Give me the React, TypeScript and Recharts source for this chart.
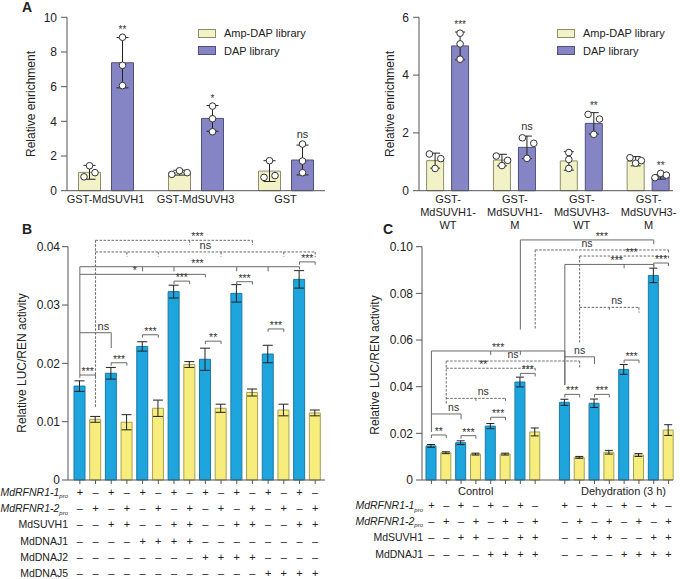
import React from "react";
import { BarChart, Bar, XAxis, YAxis, ErrorBar, Cell, LabelList, ReferenceLine } from "recharts";

const FONT = "'Liberation Sans', Arial, Helvetica, sans-serif";
const AX = "#555";
const BR = "#6a6a6a";
const AMP = { fill: "#f2f2c6", stroke: "#8e8e6e" };
const DAP = { fill: "#8585c6", stroke: "#50507e" };
const BLUE = { fill: "#1ea5dd", stroke: "#1a7aa5" };
const YEL = { fill: "#f6ed7d", stroke: "#aaa055" };

// ---- A, left ----
const a1Names = ["GST-MdSUVH1", "GST-MdSUVH3", "GST"];
const a1Amp = [1.06, 1.04, 1.13];
const a1AmpSd = [0.4, 0.14, 0.6];
const a1AmpReps = [[0.8, 1.44, 1.04], [0.94, 1.15, 1.04], [1.73, 0.77, 0.87]];
const a1Dap = [7.38, 4.17, 1.77];
const a1DapSd = [1.45, 0.74, 0.86];
const a1DapReps = [[8.85, 7.23, 6.06], [4.88, 4.15, 3.4], [2.69, 1.71, 1.04]];
const a1DapSig = ["**", "*", "ns"];

// ---- A, right ----
const a2Names = ["GST-MdSUVH1-WT", "GST-MdSUVH1-M", "GST-MdSUVH3-WT", "GST-MdSUVH3-M"];
const a2Amp = [1.04, 1.06, 1.03, 1.02];
const a2AmpSd = [0.26, 0.2, 0.32, 0.16];
const a2AmpReps = [[1.27, 0.77, 1.11], [1.2, 0.87, 1.05], [1.32, 1.08, 0.77], [1.14, 0.95, 1.04]];
const a2Dap = [5.01, 1.5, 2.33, 0.48];
const a2DapSd = [0.48, 0.39, 0.37, 0.08];
const a2DapReps = [[5.45, 5.08, 4.55], [1.83, 1.12, 1.64], [2.64, 1.95, 2.48], [0.45, 0.6, 0.54]];
const a2DapSig = ["***", "ns", "**", "**"];

// dot jitter (in dot-steps), purely cosmetic
const a1AmpJit = [[-1, 0, 1], [-1.4, 0, 1.4], [0, -1, 1]];
const a1DapJit = [[0, 0, 0], [0, 0, 0], [0, 0, 0]];
const a2AmpJit = [[-1, 0, 1], [-1, 0, 1], [0, 0, 0], [-1, 0, 1]];
const a2DapJit = [[0, 0, 0], [-0.8, 0, 1.2], [-1, 0, 1], [-1, 0, 1]];

// ---- B ----
const bVals = [0.0161, 0.0104, 0.0183, 0.0099, 0.0229, 0.0123, 0.0323, 0.0198, 0.0207, 0.0123, 0.032, 0.015, 0.0216, 0.012, 0.0344, 0.0115];
const bErr = [0.0009, 0.0005, 0.001, 0.0013, 0.0008, 0.0014, 0.0011, 0.0005, 0.0019, 0.0007, 0.0015, 0.0006, 0.0015, 0.001, 0.0015, 0.0005];
const bRowLabels = [
  { t: "MdRFNR1-1", pro: true },
  { t: "MdRFNR1-2", pro: true },
  { t: "MdSUVH1" },
  { t: "MdDNAJ1" },
  { t: "MdDNAJ2" },
  { t: "MdDNAJ5" },
];
const bRows = [
  "+-+-+-+-+-+-+-+-",
  "-+-+-+-+-+-+-+-+",
  "--++--++--++--++",
  "----++++--------",
  "--------++++----",
  "------------++++",
];
const bPairs: [number, number, number, string][] = [
  [1, 2, 0.018, "***"], [3, 4, 0.0201, "***"], [5, 6, 0.0249, "***"], [7, 8, 0.0341, "***"],
  [9, 10, 0.0238, "**"], [11, 12, 0.034, "***"], [13, 14, 0.0259, "***"], [15, 16, 0.0374, "***"],
];
const bSpans = [
  { from: 2, to: 12, y: 0.0411, end: 0.0403, ticks: [8], leg: 0.0125, dash: true, text: "***", at: [8, 9] },
  { from: 2, to: 16, y: 0.0391, end: 0.0382, ticks: [4, 6, 10, 14], dash: true, text: "ns", at: [9, 9] },
  { from: 1, to: 15, y: 0.03657, end: 0.0361, ticks: [5, 7, 11, 13], leg: 0.018, text: "***", at: [8, 9] },
  { from: 1, to: 9, y: 0.03526, end: 0.03475, text: "*", at: [4, 5] },
  { from: 1, to: 3, y: 0.02525, end: 0.02263, text: "ns", at: [2, 3] },
];

// ---- C ----
const cVals = [0.0146, 0.0117, 0.016, 0.0111, 0.0231, 0.0111, 0.042, 0.0206, 0.0333, 0.0097, 0.0329, 0.0119, 0.0474, 0.0107, 0.0877, 0.0214];
const cErr = [0.0006, 0.0004, 0.0008, 0.0004, 0.0011, 0.0004, 0.0021, 0.0017, 0.0013, 0.0004, 0.0018, 0.0008, 0.0021, 0.0006, 0.0031, 0.0023];
const cGroups = ["Control", "Dehydration (3 h)"];
const cRowLabels = [
  { t: "MdRFNR1-1", pro: true },
  { t: "MdRFNR1-2", pro: true },
  { t: "MdSUVH1" },
  { t: "MdDNAJ1" },
];
const cRows = [
  "+-+-+-+-+-+-+-+-",
  "-+-+-+-+-+-+-+-+",
  "--++--++--++--++",
  "----++++----++++",
];
const cPairs: [number, number, number, string][] = [
  [1, 2, 0.0193, "**"], [3, 4, 0.019, "***"], [5, 6, 0.0269, "***"], [7, 8, 0.0457, "***"],
  [9, 10, 0.0367, "***"], [11, 12, 0.0367, "***"], [13, 14, 0.0514, "***"], [15, 16, 0.093, "***"],
];
const cSpans = [
  { from: 7, to: 15, y: 0.1029, end: 0.1011, leg: 0.0645, text: "***", at: [11, 12] },
  { from: 8, to: 16, y: 0.0986, end: 0.0972, leg: 0.0645, dash: true, text: "ns", at: [10, 11] },
  { from: 10, to: 16, y: 0.096, end: 0.0951, leg: 0.0586, dash: true, text: "***", at: [13, 14] },
  { from: 9, to: 15, y: 0.0924, end: 0.0906, ticks: [13], leg: 0.0407, text: "***", at: [12, 13] },
  { from: 10, to: 14, y: 0.074, end: 0.0717, ticks: [12], dash: true, text: "ns", at: [12, 13] },
  { from: 1, to: 9, y: 0.0553, end: 0.0407, ticks: [5, 7], leg: 0.0206, text: "***", at: [5, 6] },
  { from: 9, to: 11, y: 0.0528, end: 0.0497, text: "ns", at: [10, 10] },
  { from: 2, to: 10, y: 0.051, end: 0.0483, leg: 0.0321, dash: true, text: "ns", at: [6, 7] },
  { from: 2, to: 8, y: 0.0479, end: 0.0462, dash: true, text: "**", at: [4, 5] },
  { from: 2, to: 6, y: 0.035, end: 0.0336, ticks: [4], dash: true, text: "ns", at: [4, 5] },
  { from: 1, to: 3, y: 0.0283, end: 0.026, text: "ns", at: [2, 3] },
];

const a1Data = a1Names.map((name, i) => ({ name, amp: a1Amp[i], ampSd: a1AmpSd[i], dap: a1Dap[i], dapSd: a1DapSd[i] }));
const a2Data = a2Names.map((name, i) => ({ name, amp: a2Amp[i], ampSd: a2AmpSd[i], dap: a2Dap[i], dapSd: a2DapSd[i] }));
const bNames = bVals.map((_, i) => `b${i + 1}`);
const bData = bVals.map((v, i) => ({ name: bNames[i], v, e: bErr[i] }));
const cNames = cVals.map((_, i) => `c${i + 1}`);
const cData = [
  ...cVals.slice(0, 8).map((v, i) => ({ name: cNames[i], v, e: cErr[i] })),
  { name: "gap", v: null, e: null },
  ...cVals.slice(8).map((v, i) => ({ name: cNames[i + 8], v, e: cErr[i + 8] })),
];

const bRowDy = [11.8, 28.2, 44.4, 60.6, 77, 93.3];
const cRowDy = [25, 40.5, 57.3, 74];

const yTick = { fontSize: 12, fill: "#222", fontFamily: FONT };
const fmt = (v: number) => (v === 0 ? "0" : v.toFixed(2));

function repDots(reps: number[][], jit: number[][], sd: number[], sig: string[] | null, step: number) {
  return (p: any) => {
    const vb = p.viewBox ?? p;
    const { x, y, width, height } = vb;
    const i = p.index;
    const v = Number(p.value);
    if (!v || !height) return null;
    const k = height / v;
    const base = y + height;
    const cx = x + width / 2;
    const top = base - Math.max(v + sd[i], ...reps[i]) * k;
    const s = sig ? sig[i] : null;
    return (
      <g key={`dots-${i}`}>
        {reps[i].map((r, j) => (
          <circle key={j} cx={cx + jit[i][j] * step} cy={base - r * k} r={3.3} fill="#fff" stroke="#333" strokeWidth={1} />
        ))}
        {s && (
          <text x={cx} y={top - (s === "ns" ? 6 : 4)} textAnchor="middle" fontSize={s === "ns" ? 11 : 10} fill="#333" fontFamily={FONT}>
            {s}
          </text>
        )}
      </g>
    );
  };
}

const CatTick = (p: any) => {
  const { x, y, payload, split } = p;
  const lines = split ? String(payload.value).split(/(?<=-)/) : [String(payload.value)];
  return (
    <g>
      {lines.map((l: string, i: number) => (
        <text key={i} x={x} y={y + 2.3 + i * 13} textAnchor="middle" dominantBaseline="central" fontSize={11} fill="#222" fontFamily={FONT}>
          {l}
        </text>
      ))}
    </g>
  );
};

const TableTick = (p: any) => {
  const { x, y, payload, rows, dys, names } = p;
  const idx = names.indexOf(payload.value);
  if (idx < 0) return null;
  const ay = y - 6;
  return (
    <g>
      {rows.map((r: string, i: number) => (
        <text key={i} x={x} y={ay + dys[i]} textAnchor="middle" dominantBaseline="central" fontSize={11} fill="#222" fontFamily={FONT}>
          {r[idx] === "+" ? "+" : "–"}
        </text>
      ))}
    </g>
  );
};

function seg(key: string, x1: string, y1: number, x2: string, y2: number, dash?: boolean) {
  return (
    <ReferenceLine
      key={key}
      segment={[{ x: x1, y: y1 }, { x: x2, y: y2 }]}
      stroke={BR}
      strokeWidth={1}
      strokeDasharray={dash ? "2.5 1.5" : undefined}
      ifOverflow="visible"
    />
  );
}

function sigLabel(key: string, x1: string, x2: string, y: number, text: string, fs: number) {
  const star = text !== "ns";
  return (
    <ReferenceLine
      key={key}
      segment={[{ x: x1, y }, { x: x2, y }]}
      stroke="none"
      ifOverflow="visible"
      label={{ value: text, position: "top", offset: star ? 0 : 3, fontSize: star ? 10.5 : fs, fill: "#333", fontFamily: FONT }}
    />
  );
}

function spanLines(id: string, s: any, cat: (n: number) => string, tick: number, fs: number) {
  const out = [seg(`${id}h`, cat(s.from), s.y, cat(s.to), s.y, s.dash), seg(`${id}e`, cat(s.to), s.y, cat(s.to), s.end, s.dash)];
  if (s.leg !== undefined) out.push(seg(`${id}l`, cat(s.from), s.y, cat(s.from), s.leg, s.dash));
  (s.ticks || []).forEach((t: number) => out.push(seg(`${id}t${t}`, cat(t), s.y, cat(t), s.y - tick, s.dash)));
  out.push(sigLabel(`${id}s`, cat(s.at[0]), cat(s.at[1]), s.y, s.text, fs));
  return out;
}

function pairLines(id: string, p: [number, number, number, string], cat: (n: number) => string, tick: number, fs: number) {
  const [a, b, y, text] = p;
  return [
    seg(`${id}h`, cat(a), y, cat(b), y),
    seg(`${id}a`, cat(a), y, cat(a), y - tick),
    seg(`${id}b`, cat(b), y, cat(b), y - tick),
    sigLabel(`${id}s`, cat(a), cat(b), y, text, fs),
  ];
}

const abs = (left: number, top: number): React.CSSProperties => ({ position: "absolute", left, top });

function YTitle({ x, y, text }: { x: number; y: number; text: string }) {
  return (
    <div style={{ position: "absolute", left: x, top: y, transform: "translate(-50%, -50%) rotate(-90deg)", fontSize: 12, whiteSpace: "nowrap" }}>
      {text}
    </div>
  );
}

function Letter({ x, y, t }: { x: number; y: number; t: string }) {
  return (
    <div style={{ position: "absolute", left: x, top: y, transform: "translate(-50%, -50%)", fontSize: 14, fontWeight: "bold" }}>{t}</div>
  );
}

function LegendA({ x, y }: { x: number; y: number }) {
  const items = [
    { t: "Amp-DAP library", c: AMP },
    { t: "DAP library", c: DAP },
  ];
  return (
    <>
      {items.map((it, i) => (
        <div key={i} style={{ position: "absolute", left: x, top: y + i * 17.5, height: 10, display: "flex", alignItems: "center", fontSize: 11, whiteSpace: "nowrap" }}>
          <div style={{ width: 16, height: 7, background: it.c.fill, border: `1px solid ${it.c.stroke}`, marginRight: 8 }} />
          {it.t}
        </div>
      ))}
    </>
  );
}

function RowLabels({ labels, right, dys }: { labels: { t: string; pro?: boolean }[]; right: number; dys: number[] }) {
  return (
    <>
      {labels.map((l, i) => (
        <div
          key={i}
          style={{
            position: "absolute",
            left: right - 200,
            width: 200,
            textAlign: "right",
            top: 480 + dys[i] - 5,
            height: 10,
            lineHeight: "10px",
            fontSize: 10.5,
            fontStyle: l.pro ? "italic" : "normal",
            whiteSpace: "nowrap",
          }}
        >
          {l.t}
          {l.pro && <span style={{ fontSize: 6, position: "relative", top: 2.5 }}>pro</span>}
        </div>
      ))}
    </>
  );
}

export default function App() {
  const bCat = (n: number) => `b${n}`;
  const cCat = (n: number) => `c${n}`;
  return (
    <div style={{ position: "absolute", left: 0, top: 0, width: 680, height: 579, background: "#fff", fontFamily: FONT, color: "#222", overflow: "hidden" }}>
      {/* A left */}
      <div style={abs(0, 0)}>
        <BarChart width={340} height={235} data={a1Data} margin={{ top: 17.3, right: 15, bottom: 0, left: 0 }} barSize={22} barGap={11}>
          <XAxis dataKey="name" height={44.3} interval={0} tickLine={false} tickSize={0} tickMargin={6} axisLine={{ stroke: AX }} tick={<CatTick />} padding={{ left: -6.5, right: -5.5 }} />
          <YAxis width={67} domain={[0, 10]} ticks={[0, 2, 4, 6, 8, 10]} interval={0} tickSize={6} tickMargin={4} axisLine={{ stroke: AX }} tickLine={{ stroke: AX }} tick={yTick} />
          <Bar dataKey="amp" fill={AMP.fill} stroke={AMP.stroke} isAnimationActive={false}>
            <ErrorBar dataKey="ampSd" width={6} stroke="#222" strokeWidth={1} isAnimationActive={false} />
            <LabelList dataKey="amp" content={repDots(a1AmpReps, a1AmpJit, a1AmpSd, null, 5.5)} />
          </Bar>
          <Bar dataKey="dap" fill={DAP.fill} stroke={DAP.stroke} isAnimationActive={false}>
            <ErrorBar dataKey="dapSd" width={6} stroke="#222" strokeWidth={1} isAnimationActive={false} />
            <LabelList dataKey="dap" content={repDots(a1DapReps, a1DapJit, a1DapSd, a1DapSig, 5.5)} />
          </Bar>
        </BarChart>
      </div>

      {/* A right */}
      <div style={abs(340, 0)}>
        <BarChart width={340} height={235} data={a2Data} margin={{ top: 17.3, right: 7, bottom: 0, left: 0 }} barSize={17} barGap={8}>
          <XAxis dataKey="name" height={44.3} interval={0} tickLine={false} tickSize={0} tickMargin={6} axisLine={{ stroke: AX }} tick={<CatTick split />} padding={{ left: -4.4, right: -9 }} />
          <YAxis width={79} domain={[0, 6]} ticks={[0, 2, 4, 6]} interval={0} tickSize={6} tickMargin={4} axisLine={{ stroke: AX }} tickLine={{ stroke: AX }} tick={yTick} />
          <Bar dataKey="amp" fill={AMP.fill} stroke={AMP.stroke} isAnimationActive={false}>
            <ErrorBar dataKey="ampSd" width={5} stroke="#222" strokeWidth={1} isAnimationActive={false} />
            <LabelList dataKey="amp" content={repDots(a2AmpReps, a2AmpJit, a2AmpSd, null, 5.7)} />
          </Bar>
          <Bar dataKey="dap" fill={DAP.fill} stroke={DAP.stroke} isAnimationActive={false}>
            <ErrorBar dataKey="dapSd" width={5} stroke="#222" strokeWidth={1} isAnimationActive={false} />
            <LabelList dataKey="dap" content={repDots(a2DapReps, a2DapJit, a2DapSd, a2DapSig, 5.7)} />
          </Bar>
        </BarChart>
      </div>

      {/* B */}
      <div style={abs(0, 230)}>
        <BarChart width={340} height={349} data={bData} margin={{ top: 16.7, right: 15, bottom: 0, left: 0 }} barSize={11}>
          <XAxis dataKey="name" height={99} interval={0} tickSize={4} tickMargin={2} axisLine={{ stroke: AX }} tickLine={{ stroke: AX }} tick={<TableTick rows={bRows} dys={bRowDy} names={bNames} />} padding={{ left: 4, right: 2 }} />
          <YAxis width={68} domain={[0, 0.04]} ticks={[0, 0.01, 0.02, 0.03, 0.04]} interval={0} tickFormatter={fmt} tickSize={6} tickMargin={2} axisLine={{ stroke: AX }} tickLine={{ stroke: AX }} tick={yTick} />
          <Bar dataKey="v" isAnimationActive={false} strokeWidth={1}>
            {bData.map((_, i) => (
              <Cell key={i} fill={i % 2 === 0 ? BLUE.fill : YEL.fill} stroke={i % 2 === 0 ? BLUE.stroke : YEL.stroke} />
            ))}
            <ErrorBar dataKey="e" width={5} stroke="#222" strokeWidth={1} isAnimationActive={false} />
          </Bar>
          {bSpans.flatMap((s, i) => spanLines(`bs${i}`, s, bCat, 0.0008, 11))}
          {bPairs.flatMap((p, i) => pairLines(`bp${i}`, p, bCat, 0.0005, 11))}
        </BarChart>
      </div>

      {/* C */}
      <div style={abs(340, 230)}>
        <BarChart width={340} height={349} data={cData} margin={{ top: 16.7, right: 7, bottom: 0, left: 0 }} barSize={10}>
          <XAxis dataKey="name" height={99} ticks={cNames} interval={0} tickSize={4} tickMargin={2} axisLine={{ stroke: AX }} tickLine={{ stroke: AX }} tick={<TableTick rows={cRows} dys={cRowDy} names={cNames} />} padding={{ left: 2, right: -3 }} />
          <YAxis width={82} domain={[0, 0.1]} ticks={[0, 0.02, 0.04, 0.06, 0.08, 0.1]} interval={0} tickFormatter={fmt} tickSize={6} tickMargin={3} axisLine={{ stroke: AX }} tickLine={{ stroke: AX }} tick={yTick} />
          <Bar dataKey="v" isAnimationActive={false} strokeWidth={1}>
            {cData.map((d, i) => {
              const blue = cNames.indexOf(d.name) % 2 === 0;
              return <Cell key={i} fill={blue ? BLUE.fill : YEL.fill} stroke={blue ? BLUE.stroke : YEL.stroke} />;
            })}
            <ErrorBar dataKey="e" width={4} stroke="#222" strokeWidth={1} isAnimationActive={false} />
          </Bar>
          {cSpans.flatMap((s, i) => spanLines(`cs${i}`, s, cCat, 0.0017, 10.5))}
          {cPairs.flatMap((p, i) => pairLines(`cp${i}`, p, cCat, 0.0013, 10.5))}
        </BarChart>
      </div>

      {/* overlay text */}
      <Letter x={27} y={7} t="A" />
      <Letter x={27} y={229} t="B" />
      <Letter x={388} y={229} t="C" />
      <YTitle x={31} y={104} text="Relative enrichment" />
      <YTitle x={390} y={104} text="Relative enrichment" />
      <YTitle x={21.7} y={362.5} text="Relative LUC/REN activity" />
      <YTitle x={375} y={364.5} text="Relative LUC/REN activity" />
      <LegendA x={198} y={28} />
      <LegendA x={557} y={28} />
      <RowLabels labels={bRowLabels} right={68} dys={bRowDy} />
      <RowLabels labels={cRowLabels} right={423} dys={cRowDy} />
      <div style={{ position: "absolute", left: 475.7, top: 491, transform: "translate(-50%, -50%)", fontSize: 11, whiteSpace: "nowrap" }}>{cGroups[0]}</div>
      <div style={{ position: "absolute", left: 623.5, top: 491, transform: "translate(-50%, -50%)", fontSize: 11, whiteSpace: "nowrap" }}>{cGroups[1]}</div>
    </div>
  );
}
